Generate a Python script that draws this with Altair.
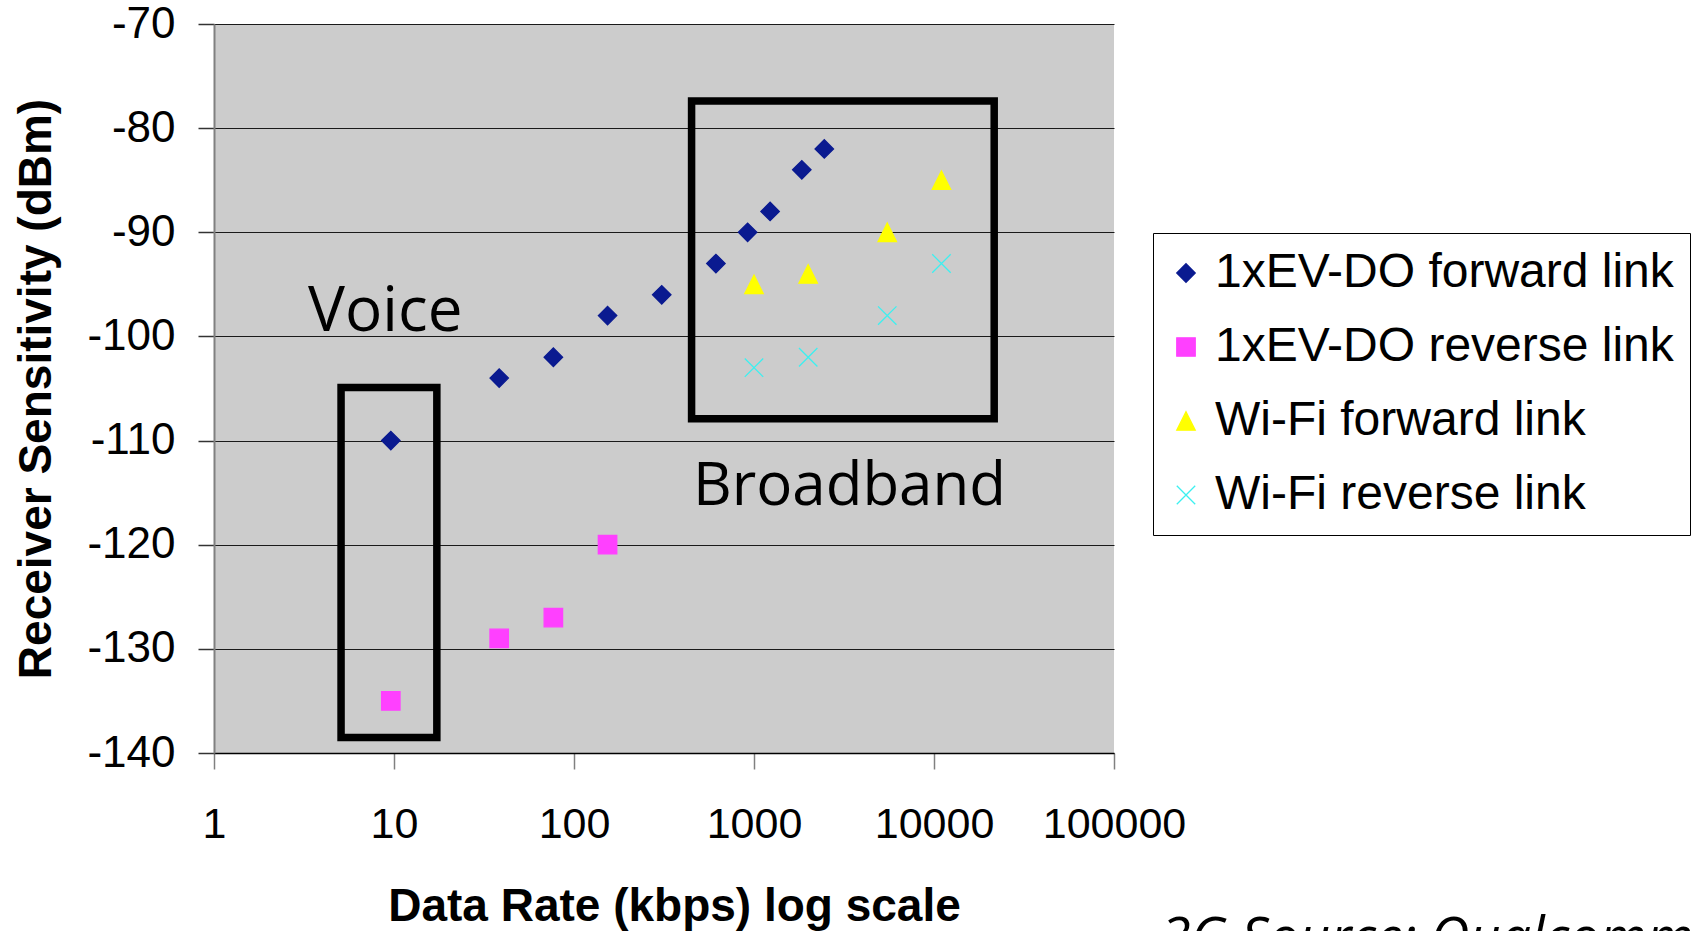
import altair as alt
import pandas as pd

# ---------------- data ----------------
series_names = ["1xEV-DO forward link", "1xEV-DO reverse link",
                "Wi-Fi forward link", "Wi-Fi reverse link"]

evdo_fwd_rate = [9.6, 38.4, 76.8, 153.6, 307.2, 614.4, 921.6, 1228.8, 1843.2, 2457.6]
evdo_fwd_sens = [-110, -104, -102, -98, -96, -93, -90, -88, -84, -82]

evdo_rev_rate = [9.6, 38.4, 76.8, 153.6]
evdo_rev_sens = [-135, -129, -127, -120]

wifi_fwd_rate = [1000, 2000, 5500, 11000]
wifi_fwd_sens = [-95, -94, -90, -85]

wifi_rev_rate = [1000, 2000, 5500, 11000]
wifi_rev_sens = [-103, -102, -98, -93]

x_ticks = [1, 10, 100, 1000, 10000, 100000]
y_ticks = [-140, -130, -120, -110, -100, -90, -80, -70]

box_names = ["Voice", "Broadband"]
box_x1 = [5.08, 450]
box_x2 = [17.3, 21600]
box_y1 = [-104.9, -77.4]
box_y2 = [-138.5, -107.9]

label_text = ["Voice", "Broadband"]
label_x = [3.33, 458]
label_y = [-99.45, -116.2]
label_size = [62, 60]

caption = "3G Source: Qualcomm"

series_colors = ["#0A1A90", "#FF40FF", "#FFFF00", "#3CF0F0"]
series_shapes = ["diamond", "square", "M0,-1L1,1L-1,1Z", "M-1,-1L1,1M1,-1L-1,1"]

# ---------------- tables ----------------
rows = []
for name, rates, sens in [
    (series_names[0], evdo_fwd_rate, evdo_fwd_sens),
    (series_names[1], evdo_rev_rate, evdo_rev_sens),
    (series_names[2], wifi_fwd_rate, wifi_fwd_sens),
    (series_names[3], wifi_rev_rate, wifi_rev_sens),
]:
    for r, s in zip(rates, sens):
        rows.append({"series": name, "rate": r, "sens": s})
points_df = pd.DataFrame(rows)

boxes_df = pd.DataFrame({"name": box_names, "x1": box_x1, "x2": box_x2,
                         "y1": box_y1, "y2": box_y2})
labels_df = pd.DataFrame({"text": label_text, "x": label_x, "y": label_y,
                          "size": label_size})
caption_df = pd.DataFrame({"text": [caption]})

x_scale = alt.Scale(type="log", domain=[1, 100000], nice=False)
y_scale = alt.Scale(domain=[-140, -70], nice=False)

x_axis = alt.Axis(values=x_ticks, format="d", tickSize=16, labelPadding=34,
                  grid=False, domainColor="black", domainWidth=1.5,
                  tickColor="#808080", tickWidth=1.5,
                  labelFontSize=43, labelFlush=False, labelOverlap=False,
                  labelBound=False, titlePadding=38, titleX=460)
y_axis = alt.Axis(values=y_ticks, labelExpr="datum.value + ''", tickSize=16,
                  labelPadding=23, grid=True, gridColor="#1a1a1a", gridWidth=1.2,
                  gridOpacity=1, domainColor="#808080", domainWidth=2,
                  tickColor="#333333", tickWidth=1.5, labelFontSize=44,
                  labelFlush=False, labelOverlap=False,
                  titleX=-164, titleBaseline="alphabetic")

boxes = alt.Chart(boxes_df).mark_rect(filled=False, color="black",
                                      strokeWidth=7.5, strokeJoin="miter").encode(
    x=alt.X("x1:Q", scale=x_scale, axis=x_axis, title="Data Rate (kbps) log scale"),
    x2="x2:Q",
    y=alt.Y("y1:Q", scale=y_scale, axis=y_axis, title="Receiver Sensitivity (dBm)"),
    y2="y2:Q",
)

color_scale = alt.Scale(domain=series_names, range=series_colors)
shape_scale = alt.Scale(domain=series_names, range=series_shapes)

points = alt.Chart(points_df).mark_point(filled=True, size=340, strokeWidth=1.3,
                                         opacity=1).encode(
    x=alt.X("rate:Q", scale=x_scale),
    y=alt.Y("sens:Q", scale=y_scale),
    fill=alt.Fill("series:N", scale=color_scale, title=None),
    stroke=alt.Stroke("series:N", scale=color_scale, title=None),
    shape=alt.Shape("series:N", scale=shape_scale, title=None),
)

labels = alt.Chart(labels_df).mark_text(font="Open Sans",
                                        align="left", baseline="alphabetic",
                                        color="black").encode(
    x=alt.X("x:Q", scale=x_scale),
    y=alt.Y("y:Q", scale=y_scale),
    text="text:N",
    size=alt.Size("size:Q", scale=None, legend=None),
)

cap = alt.Chart(caption_df).mark_text(font="Open Sans", fontStyle="italic",
                                      fontSize=54, align="left",
                                      baseline="alphabetic", color="black").encode(
    x=alt.value(947), y=alt.value(932), text="text:N",
)

chart = alt.layer(boxes, points, labels, cap).properties(
    width=900, height=729,
    autosize=alt.AutoSizeParams(type="none"),
    padding={"left": 214, "top": 24, "right": 580, "bottom": 178},
    background="white",
).configure_view(
    fill="#CCCCCC", strokeWidth=0,
).configure_axis(
    labelFont="Liberation Sans", labelColor="black",
    titleFont="Liberation Sans", titleFontWeight="bold", titleFontSize=46,
    titleColor="black",
).configure_legend(
    orient="none", legendX=939, legendY=209,
    fillColor="white", strokeColor="black", padding=16,
    labelFont="Liberation Sans", labelFontSize=48, labelColor="black",
    labelLimit=0, symbolSize=340, symbolStrokeWidth=1.3, symbolOffset=-7,
    labelOffset=5, rowPadding=26, titlePadding=0,
)

chart.save("out.html", embed_options={"renderer": "svg", "actions": False})
